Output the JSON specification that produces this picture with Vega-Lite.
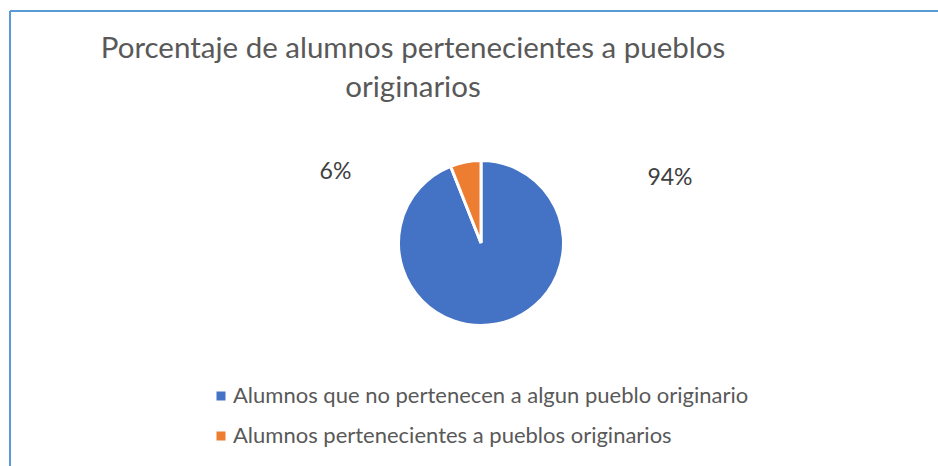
{
  "$schema": "https://vega.github.io/schema/vega-lite/v6.json",
  "width": 938,
  "height": 466,
  "autosize": {"type": "fit", "contains": "padding"},
  "padding": {"left": 10, "top": 11, "right": 0, "bottom": 0},
  "background": "white",
  "view": {"stroke": "#5B9BD5", "strokeWidth": 2, "strokeDash": [928, 1383, 455, 0]},
  "config": {"font": "Lato"},
  "title": {
    "text": ["Porcentaje de alumnos pertenecientes a pueblos", "originarios"],
    "anchor": "middle",
    "frame": "group",
    "orient": "top",
    "offset": -92,
    "dx": -61,
    "fontSize": 29.5,
    "font": "Lato",
    "fontWeight": "normal",
    "color": "#595959",
    "lineHeight": 39
  },
  "data": {
    "values": [
      {"grupo": "Alumnos que no pertenecen a algun pueblo originario", "porcentaje": 94, "etiqueta": "94%", "orden": 1},
      {"grupo": "Alumnos pertenecientes a pueblos originarios", "porcentaje": 6, "etiqueta": "6%", "orden": 2}
    ]
  },
  "encoding": {
    "theta": {"field": "porcentaje", "type": "quantitative", "stack": true},
    "order": {"field": "orden", "type": "quantitative"}
  },
  "layer": [
    {
      "mark": {"type": "arc", "outerRadius": 82.5, "stroke": "white", "strokeWidth": 3, "x": {"expr": "width/2 + 7"}, "y": {"expr": "height/2 + 4.5"}},
      "encoding": {
        "color": {
          "field": "grupo",
          "type": "nominal",
          "scale": {
            "domain": ["Alumnos que no pertenecen a algun pueblo originario", "Alumnos pertenecientes a pueblos originarios"],
            "range": ["#4472C4", "#ED7D31"]
          },
          "legend": {
            "title": null,
            "orient": "none",
            "legendX": 200,
            "legendY": 374,
            "direction": "vertical",
            "symbolType": "square",
            "symbolSize": 81,
            "symbolStrokeWidth": 0,
            "labelFont": "Lato",
            "labelFontSize": 22,
            "labelColor": "#595959",
            "labelOffset": 1,
            "rowPadding": 18,
            "labelLimit": 0
          }
        }
      }
    },
    {
      "transform": [{"filter": "datum.orden == 1"}],
      "mark": {"type": "text", "radius": 0, "x": {"expr": "width/2 + 7"}, "y": {"expr": "height/2 + 4.5"}, "dx": 189, "dy": -65, "fontSize": 23, "font": "Lato", "color": "#404040"},
      "encoding": {"text": {"field": "etiqueta", "type": "nominal"}}
    },
    {
      "transform": [{"filter": "datum.orden == 2"}],
      "mark": {"type": "text", "radius": 0, "x": {"expr": "width/2 + 7"}, "y": {"expr": "height/2 + 4.5"}, "dx": -145.5, "dy": -71.5, "fontSize": 23, "font": "Lato", "color": "#404040"},
      "encoding": {"text": {"field": "etiqueta", "type": "nominal"}}
    }
  ]
}
